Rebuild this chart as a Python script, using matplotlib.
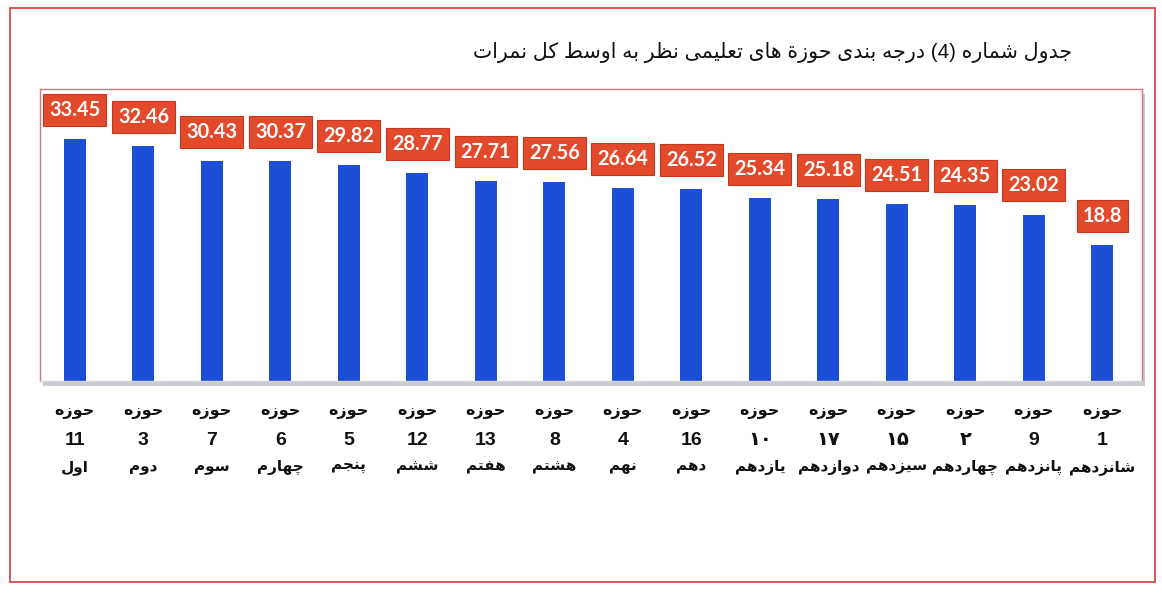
import matplotlib
matplotlib.use("Agg")
from matplotlib import pyplot as plt
from matplotlib.patches import Rectangle

# --- data -------------------------------------------------------------
scores = [33.45, 32.46, 30.43, 30.37, 29.82, 28.77, 27.71, 27.56,
          26.64, 26.52, 25.34, 25.18, 24.51, 24.35, 23.02, 18.8]
zone_numbers = ["11", "3", "7", "6", "5", "12", "13", "8",
                "4", "16", "۱۰", "۱۷", "۱۵", "۲", "9", "1"]
ranks = ["اول", "دوم", "سوم", "چهارم", "پنجم", "ششم", "هفتم", "هشتم",
         "نهم", "دهم", "یازدهم", "دوازدهم", "سیزدهم", "چهاردهم", "پانزدهم", "شانزدهم"]
zone_word = "حوزه"
title = "جدول شماره (4) درجه بندی حوزة های تعلیمی نظر به اوسط کل نمرات"

# --- minimal arabic/persian shaping (matplotlib has no text shaping) ---
# (isolated, final, initial, medial); right-joining letters have no initial/medial
FORMS = {
    "ا": ("\uFE8D", "\uFE8E", None, None),
    "ب": ("\uFE8F", "\uFE90", "\uFE91", "\uFE92"),
    "ة": ("\uFE93", "\uFE94", None, None),
    "ت": ("\uFE95", "\uFE96", "\uFE97", "\uFE98"),
    "ج": ("\uFE9D", "\uFE9E", "\uFE9F", "\uFEA0"),
    "ح": ("\uFEA1", "\uFEA2", "\uFEA3", "\uFEA4"),
    "د": ("\uFEA9", "\uFEAA", None, None),
    "ر": ("\uFEAD", "\uFEAE", None, None),
    "ز": ("\uFEAF", "\uFEB0", None, None),
    "س": ("\uFEB1", "\uFEB2", "\uFEB3", "\uFEB4"),
    "ش": ("\uFEB5", "\uFEB6", "\uFEB7", "\uFEB8"),
    "ط": ("\uFEC1", "\uFEC2", "\uFEC3", "\uFEC4"),
    "ظ": ("\uFEC5", "\uFEC6", "\uFEC7", "\uFEC8"),
    "ع": ("\uFEC9", "\uFECA", "\uFECB", "\uFECC"),
    "ف": ("\uFED1", "\uFED2", "\uFED3", "\uFED4"),
    "ل": ("\uFEDD", "\uFEDE", "\uFEDF", "\uFEE0"),
    "م": ("\uFEE1", "\uFEE2", "\uFEE3", "\uFEE4"),
    "ن": ("\uFEE5", "\uFEE6", "\uFEE7", "\uFEE8"),
    "ه": ("\uFEE9", "\uFEEA", "\uFEEB", "\uFEEC"),
    "و": ("\uFEED", "\uFEEE", None, None),
    "پ": ("\uFB56", "\uFB57", "\uFB58", "\uFB59"),
    "چ": ("\uFB7A", "\uFB7B", "\uFB7C", "\uFB7D"),
    "ک": ("\uFB8E", "\uFB8F", "\uFB90", "\uFB91"),
    "ی": ("\uFBFC", "\uFBFD", "\uFBFE", "\uFBFF"),
}


def shape(word):
    out = []
    for i, c in enumerate(word):
        if c not in FORMS:
            out.append(c)
            continue
        prev = word[i - 1] if i > 0 else None
        nxt = word[i + 1] if i < len(word) - 1 else None
        join_prev = prev in FORMS and FORMS[prev][2] is not None
        join_next = FORMS[c][2] is not None and nxt in FORMS
        if join_prev and join_next:
            out.append(FORMS[c][3])
        elif join_prev:
            out.append(FORMS[c][1])
        elif join_next:
            out.append(FORMS[c][2])
        else:
            out.append(FORMS[c][0])
    return "".join(reversed(out))


def rtl(text):
    words = text.split(" ")
    return " ".join(shape(w) if any(c in FORMS for c in w) else w for w in reversed(words))


# --- figure -------------------------------------------------------------
fig = plt.figure(figsize=(11.62, 5.94), dpi=100)
fig.patch.set_facecolor("white")

# outer frame
fig.patches.append(Rectangle((0.0086, 0.020), 0.9854, 0.966, transform=fig.transFigure,
                             fill=False, edgecolor="#d8464a", linewidth=1.3, zorder=-2))

ax_pos = [0.0344, 0.3586, 0.9484, 0.4916]
# soft grey shadow behind the plot area
fig.patches.append(Rectangle((ax_pos[0] + 0.003, ax_pos[1] - 0.008), ax_pos[2], ax_pos[3],
                             transform=fig.transFigure, facecolor="#c9ccd2",
                             edgecolor="none", zorder=-1))
ax = fig.add_axes(ax_pos, zorder=1)
ax.set_facecolor("white")

x = list(range(len(scores)))
ax.bar(x, scores, width=0.32, color="#1c4fd6", zorder=2)

for xi, v in zip(x, scores):
    ax.annotate(f"{v:g}", (xi, v), xytext=(0, 21), textcoords="offset points",
                ha="center", va="center", color="white", fontsize=14.3,
                fontweight="bold", family="Lato",
                bbox=dict(boxstyle="square,pad=0.3", facecolor="#e34a2c",
                          edgecolor="#c0381f", linewidth=0.8), zorder=3)

ax.set_xlim(-0.51, 15.58)
ax.set_ylim(0, 40.4)
ax.set_yticks([])
ax.set_xticks(x)
ax.set_xticklabels([])
ax.tick_params(axis="x", length=0)

# three-line category labels under each bar
lab_font = ["Liberation Sans", "DejaVu Sans"]
for xi, n, r in zip(x, zone_numbers, ranks):
    base = dict(xycoords=("data", "axes fraction"), textcoords="offset points",
                ha="center", va="center", fontweight="bold", family=lab_font, color="#111111")
    ax.annotate(shape(zone_word), (xi, 0), xytext=(0, -22), fontsize=11.5, **base)
    ax.annotate(n, (xi, 0), xytext=(0, -42.5), fontsize=14, **base)
    ax.annotate(shape(r), (xi, 0), xytext=(0, -62), fontsize=11, **base)

for side in ["top", "left", "right"]:
    ax.spines[side].set_color("#c97a7c")
    ax.spines[side].set_linewidth(1.0)
ax.spines["bottom"].set_color("#d4d4d8")
ax.spines["bottom"].set_linewidth(1.0)

fig.text(0.9225, 0.912, rtl(title), ha="right", va="center", fontsize=14.8,
         family=lab_font, color="#111111")

fig.savefig("out.png", dpi=100)
